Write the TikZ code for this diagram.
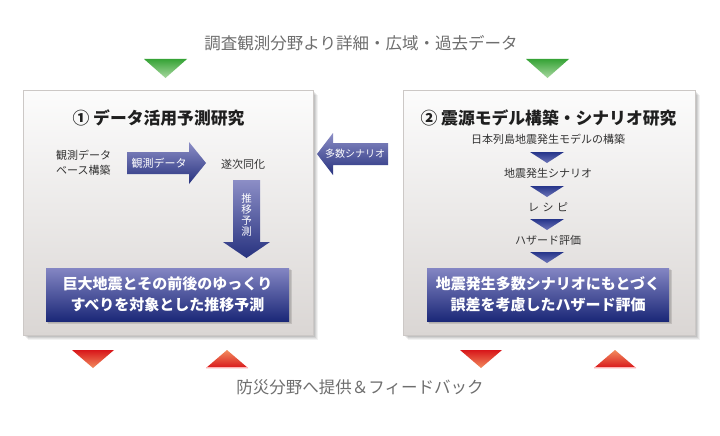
\documentclass[tikz,border=0pt]{standalone}
\usepackage{fontspec}
\setmainfont{Noto Sans CJK JP}
\definecolor{textgray}{HTML}{6E6E6E}
\definecolor{labelgray}{HTML}{333333}
\definecolor{paneltop}{HTML}{FCFCFC}
\definecolor{panelbot}{HTML}{DAD6D4}
\definecolor{panelline}{HTML}{CCC8C6}
\definecolor{bluetop}{HTML}{8486C3}
\definecolor{bluebot}{HTML}{1B2878}
\definecolor{arrtop}{HTML}{8C8EC6}
\definecolor{arrbot}{HTML}{27327F}
\definecolor{tritop}{HTML}{26358A}
\definecolor{tribot}{HTML}{6C74B8}
\definecolor{greentop}{HTML}{36A336}
\definecolor{greenbot}{HTML}{A8D8A0}
\definecolor{redtop}{HTML}{D8161A}
\definecolor{redbot}{HTML}{F28C5E}
\tikzset{
  gtext/.style={text=textgray, inner sep=0pt, font=\fontsize{16.5}{18}\selectfont},
  titletext/.style={text=black!88, inner sep=0pt, font=\fontsize{16.8}{19}\selectfont\bfseries},
  small/.style={text=labelgray, inner sep=0pt, font=\fontsize{11}{15}\selectfont},
  wtext/.style={text=white, inner sep=0pt, font=\fontsize{11}{13}\selectfont},
  wbold/.style={text=white, inner sep=0pt, align=center, font=\fontsize{15}{21}\selectfont\bfseries},
  bluefill/.style={top color=arrtop, bottom color=arrbot},
  boxfill/.style={top color=bluetop, bottom color=bluebot},
  trifill/.style={top color=tritop, bottom color=tribot},
}
\newcommand{\panelshadow}[4]{%
  \foreach \d/\o in {5/0.05,4/0.06,3/0.07,2/0.08,1/0.08}
    \fill[black,opacity=\o] (#1+\d,#2+\d) rectangle (#3+\d,#4+\d);}
\begin{document}
\begin{tikzpicture}[x=1pt,y=-1pt]
\useasboundingbox[fill=white] (0,0) rectangle (720,436);

% top / bottom texts
\node[gtext] (topt) at (361,43) {調査観測分野より詳細・広域・過去データ};
\node[gtext] (bott) at (360,387) {防災分野へ提供＆フィードバック};

% green triangles
\shade[top color=greentop, bottom color=greenbot] (144,59) -- (187,59) -- (165.5,78) -- cycle;
\shade[top color=greentop, bottom color=greenbot] (526,59) -- (569,59) -- (547.5,78) -- cycle;

% red triangles
\shade[top color=redtop, bottom color=redbot] (72,350) -- (114,350) -- (93,368) -- cycle;
\shade[top color=redbot, bottom color=redtop] (206,368) -- (248,368) -- (227,350) -- cycle;
\shade[top color=redtop, bottom color=redbot] (460,350) -- (502,350) -- (481,368) -- cycle;
\shade[top color=redbot, bottom color=redtop] (594,368) -- (636,368) -- (615,350) -- cycle;
\draw[red!30, line width=0.8pt] (206,367.6) -- (248,367.6);
\draw[red!30, line width=0.8pt] (594,367.6) -- (636,367.6);

% panels
\panelshadow{23}{90}{313}{335}
\shade[top color=paneltop, bottom color=panelbot, draw=panelline, line width=0.6pt] (23,90) rectangle (313,335);
\panelshadow{403}{90}{695}{335}
\shade[top color=paneltop, bottom color=panelbot, draw=panelline, line width=0.6pt] (403,90) rectangle (695,335);

% ---------- left panel ----------
\node[titletext] (t1) at (158.5,118) {① データ活用予測研究};
\node[small, align=left, anchor=west] (obs) at (56,162.5) {観測データ\\ベース構築};
% right arrow
\shade[bluefill] (127,152) -- (189,152) -- (189,142) -- (206,163) -- (189,184) -- (189,174) -- (127,174) -- cycle;
\node[wtext] (obsd) at (159,163) {観測データ};
\node[small] (assim) at (243,164) {遂次同化};
% down arrow
\shade[bluefill] (233,180) -- (260,180) -- (260,242) -- (270,242) -- (246.5,258) -- (223,242) -- (233,242) -- cycle;
\node[text=white, inner sep=0pt, align=center, font=\fontsize{10.5}{11}\selectfont] (pred) at (246.5,215) {推\\移\\予\\測};
% result box
\fill[black,opacity=0.12] (48,270) rectangle (292,324);
\fill[black,opacity=0.08] (47,269) rectangle (291,322.5);
\shade[boxfill] (46,268) rectangle (289,321);
\node[wbold] (res1) at (167.5,294.5) {巨大地震とその前後のゆっくり\\すべりを対象とした推移予測};

% middle arrow
\shade[bluefill] (388,143) -- (333,143) -- (333,133) -- (317,154) -- (333,175) -- (333,165) -- (388,165) -- cycle;
\node[text=white, inner sep=0pt, font=\fontsize{10}{12}\selectfont] (multi) at (355,154) {多数シナリオ};

% ---------- right panel ----------
\node[titletext] (t2) at (548.5,118) {② 震源モデル構築・シナリオ研究};
\node[small] (s1) at (548,139.5) {日本列島地震発生モデルの構築};
\shade[trifill] (530,152) -- (564,152) -- (547,163) -- cycle;
\node[small] (s2) at (548,173.5) {地震発生シナリオ};
\shade[trifill] (530,186) -- (564,186) -- (547,197) -- cycle;
\node[small] (s3) at (548,207) {レ\hspace{3.5pt}シ\hspace{3.5pt}ピ};
\shade[trifill] (530,219) -- (564,219) -- (547,230) -- cycle;
\node[small] (s4) at (548,240) {ハザード評価};
\shade[trifill] (530,252) -- (564,252) -- (547,263) -- cycle;
\fill[black,opacity=0.12] (429,270) rectangle (672,324);
\fill[black,opacity=0.08] (428,269) rectangle (671,322.5);
\shade[boxfill] (427,268) rectangle (669,321);
\node[wbold] (res2) at (548,294.5) {地震発生多数シナリオにもとづく\\誤差を考慮したハザード評価};
\end{tikzpicture}
\end{document}
